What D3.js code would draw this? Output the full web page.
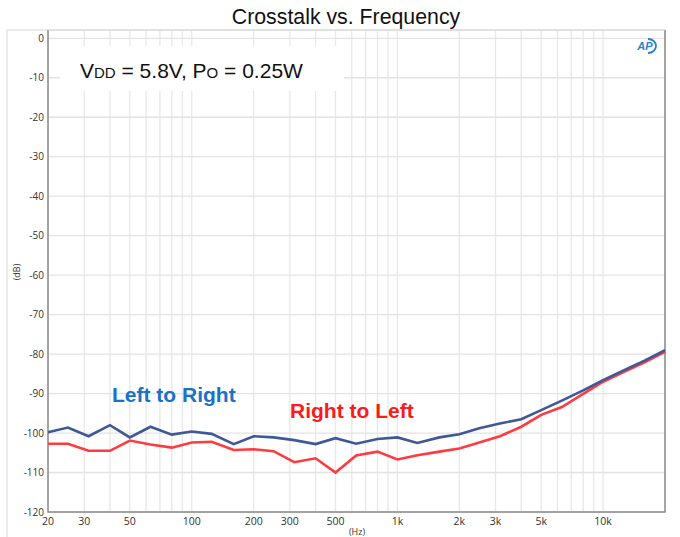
<!DOCTYPE html>
<html>
<head>
<meta charset="utf-8">
<script src="https://cdn.jsdelivr.net/npm/d3@7"></script>
<style>
  body { margin: 0; background: #fff; }
  svg { display: block; }
  text { font-family: "Open Sans", "DejaVu Sans", sans-serif; }
</style>
</head>
<body>
<div id="chart"></div>
<script>
// 1/3 octave frequencies (Hz)
const freqs = [20, 25, 31.5, 40, 50, 63, 80, 100, 125, 160, 200, 250, 315, 400, 500, 630,
  800, 1000, 1250, 1600, 2000, 2500, 3150, 4000, 5000, 6300, 8000, 10000, 12500, 16000, 20000]
const leftToRight = [-99.8, -98.6, -100.8, -98.0, -101.1, -98.4, -100.4, -99.6, -100.2, -102.8,
  -100.8, -101.1, -101.8, -102.8, -101.3, -102.7, -101.5, -101.1, -102.5, -101.1, -100.3,
  -98.8, -97.6, -96.5, -94.2, -91.8, -89.2, -86.6, -84.2, -81.6, -79.0]
const rightToLeft = [-102.7, -102.7, -104.5, -104.5, -101.9, -102.9, -103.7, -102.4, -102.2, -104.3,
  -104.1, -104.6, -107.4, -106.4, -110.0, -105.7, -104.7, -106.7, -105.6, -104.7, -103.9,
  -102.4, -100.8, -98.4, -95.4, -93.4, -90.1, -87.0, -84.6, -82.0, -79.4]
const xTicks = [20, 30, 50, 100, 200, 300, 500, 1000, 2000, 3000, 5000, 10000]
const xTickLabels = ['20', '30', '50', '100', '200', '300', '500', '1k', '2k', '3k', '5k', '10k']
const yTicks = [0, -10, -20, -30, -40, -50, -60, -70, -80, -90, -100, -110, -120]

const width = 680, height = 537
const m = { left: 48, right: 665, top: 30, bottom: 512 }

const svg = d3.select('#chart').append('svg')
  .attr('width', width)
  .attr('height', height)

const x = d3.scaleLog().domain([20, 20000]).range([m.left, m.right])
const y = d3.scaleLinear().domain([-120, 2.1]).range([m.bottom, m.top])

// outer frame
svg.append('path')
  .attr('d', `M7,${height} V${m.top} H${m.right}`)
  .attr('fill', 'none')
  .attr('stroke', '#d6d6d6')

// grid
let minor = []
;[10, 100, 1000, 10000].forEach(function (dec) {
  for (let k = 1; k < 10; k++) {
    let f = dec * k
    if (f >= 20 && f <= 20000) minor.push(f)
  }
})
svg.append('g').selectAll('line')
  .data(minor)
  .enter().append('line')
  .attr('x1', d => x(d)).attr('x2', d => x(d))
  .attr('y1', m.top).attr('y2', m.bottom)
  .attr('stroke', '#e8e8e8')
  .attr('stroke-width', 1.3)

svg.append('g').selectAll('line')
  .data(yTicks)
  .enter().append('line')
  .attr('x1', m.left).attr('x2', m.right)
  .attr('y1', d => y(d)).attr('y2', d => y(d))
  .attr('stroke', '#e3e3e3')
  .attr('stroke-width', 1.3)

// annotation box (white background covers grid)
svg.append('rect')
  .attr('x', 60).attr('y', 46)
  .attr('width', 284).attr('height', 45)
  .attr('fill', '#fff')

const ann = svg.append('text')
  .attr('x', 80).attr('y', 78)
  .attr('fill', '#111')
  .style('font-family', 'Liberation Sans, Arial, sans-serif')
  .style('font-size', '21px')
ann.append('tspan').text('V')
ann.append('tspan').text('DD').style('font-size', '15px')
ann.append('tspan').text(' = 5.8V, P')
ann.append('tspan').text('O').style('font-size', '15px')
ann.append('tspan').text(' = 0.25W')

// plot border
svg.append('path')
  .attr('d', `M${m.left},${m.top} V${m.bottom} H${m.right} V${m.top}`)
  .attr('fill', 'none')
  .attr('stroke', '#8a8a8a')
  .attr('stroke-width', 1.5)
svg.append('line')
  .attr('x1', m.left).attr('x2', m.right)
  .attr('y1', m.top).attr('y2', m.top)
  .attr('stroke', '#d6d6d6')

// axes labels
svg.append('g').selectAll('text')
  .data(yTicks)
  .enter().append('text')
  .attr('x', m.left - 4)
  .attr('y', d => y(d) + 3.5)
  .attr('text-anchor', 'end')
  .attr('fill', '#333')
  .style('font-size', '10px')
  .text(d => d)

svg.append('g').selectAll('text')
  .data(xTicks)
  .enter().append('text')
  .attr('x', d => x(d))
  .attr('y', 525)
  .attr('text-anchor', 'middle')
  .attr('fill', '#333')
  .style('font-size', '10.5px')
  .text((d, i) => xTickLabels[i])

svg.append('text')
  .attr('x', 357).attr('y', 535)
  .attr('text-anchor', 'middle')
  .attr('fill', '#333')
  .style('font-size', '9px')
  .text('(Hz)')

svg.append('text')
  .attr('transform', 'translate(20,272) rotate(-90)')
  .attr('text-anchor', 'middle')
  .attr('fill', '#333')
  .style('font-size', '9px')
  .text('(dB)')

// title
svg.append('text')
  .attr('x', 346).attr('y', 24)
  .attr('text-anchor', 'middle')
  .attr('fill', '#111')
  .style('font-family', 'Liberation Sans, Arial, sans-serif')
  .style('font-size', '21.3px')
  .text('Crosstalk vs. Frequency')

// lines
const line = d3.line()
  .x((d, i) => x(freqs[i]))
  .y(d => y(d))

svg.append('path')
  .datum(rightToLeft)
  .attr('d', line)
  .attr('fill', 'none')
  .attr('stroke', '#ff3b3f')
  .attr('stroke-width', 2.6)

svg.append('path')
  .datum(leftToRight)
  .attr('d', line)
  .attr('fill', 'none')
  .attr('stroke', '#3e5898')
  .attr('stroke-width', 2.6)

// series labels
svg.append('text')
  .attr('x', 112).attr('y', 402)
  .attr('fill', '#1b72c2')
  .style('font-family', 'Liberation Sans, Arial, sans-serif')
  .style('font-weight', 'bold')
  .style('font-size', '21px')
  .text('Left to Right')

svg.append('text')
  .attr('x', 290).attr('y', 418)
  .attr('fill', '#fc1a1a')
  .style('font-family', 'Liberation Sans, Arial, sans-serif')
  .style('font-weight', 'bold')
  .style('font-size', '21px')
  .text('Right to Left')

// AP logo
const logo = svg.append('g').attr('transform', 'translate(646,46)')
logo.append('path')
  .attr('d', 'M2,-7 A8,7 0 0 1 2,7')
  .attr('fill', 'none')
  .attr('stroke', '#2a7fd0')
  .attr('stroke-width', 1.8)
logo.append('text')
  .attr('x', -1).attr('y', 4)
  .attr('text-anchor', 'middle')
  .attr('fill', '#2a7fd0')
  .style('font-family', 'Liberation Sans, Arial, sans-serif')
  .style('font-weight', 'bold')
  .style('font-style', 'italic')
  .style('font-size', '11px')
  .text('AP')
</script>
</body>
</html>
